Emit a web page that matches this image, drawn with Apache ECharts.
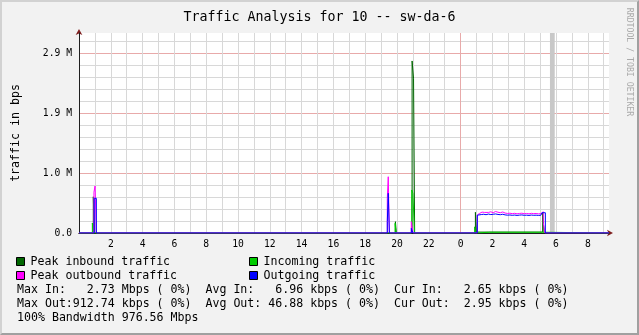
<!DOCTYPE html>
<html><head><meta charset="utf-8">
<script src="https://cdn.jsdelivr.net/npm/echarts@6/dist/echarts.min.js"></script>
<style>
html,body{margin:0;padding:0;background:#f2f2f2;}
#c{width:639px;height:335px;position:absolute;left:0;top:0;}
#frame{position:absolute;left:0;top:0;width:639px;height:335px;box-sizing:border-box;border-top:2px solid #d2d2d2;border-left:2px solid #d2d2d2;border-right:2px solid #a0a0a0;border-bottom:2px solid #a0a0a0;pointer-events:none;}
</style></head>
<body><div id="c"></div><div id="frame"></div>
<script>
const FONT = '"DejaVu Sans Mono", "Liberation Mono", monospace';
const chartTitle = 'Traffic Analysis for 10 -- sw-da-6';
const yAxisTitle = 'traffic in bps';
const creditText = 'RRDTOOL / TOBI OETIKER';
const seriesNames = ['Peak inbound traffic', 'Incoming traffic', 'Peak outbound traffic', 'Outgoing traffic'];
const seriesColors = ['#006600', '#00cc00', '#ff00ff', '#0000ff'];

// y axis: major step 976562.5 bps, minor = 1/5 of it
const yMajor = 976562.5;
const yMinor = 195312.5;
const yMax = 3255208.33;
const yTickLabels = ['0.0', '1.0 M', '1.9 M', '2.9 M'];

// x axis in hours from 00:00 of the first day
const xMax = 33.333;
const xTickHours = [2, 4, 6, 8, 10, 12, 14, 16, 18, 20, 22, 24, 26, 28, 30, 32];
const xTickLabels = ['2', '4', '6', '8', '10', '12', '14', '16', '18', '20', '22', '0', '2', '4', '6', '8'];

// unknown-data band (hours)
const unknownBand = [29.62, 29.92];

// [hour, bps] — each value holds until the next point
const peakInbound = [
  [0, 0], [0.9, 590000], [0.96, 0],
  [19.9, 184000], [19.96, 0],
  [20.95, 2800000], [21.04, 2520000], [21.11, 0],
  [24.93, 337000], [25.0, 15000], [25.78, 30000], [25.86, 15000],
  [29.16, 330000], [29.25, 0],
  [33.333, 0]
];
const incoming = [
  [0, 0], [0.84, 163000], [0.9, 0],
  [19.88, 158000], [19.94, 0],
  [20.93, 700000], [21.0, 646000], [21.1, 0],
  [24.88, 100000], [24.95, 0], [25.0, 12000], [25.8, 30000], [25.88, 12000],
  [29.3, 0],
  [33.333, 0]
];
const peakOutbound = [
  [0, 0], [0.94, 664000], [1.01, 765000], [1.09, 0],
  [19.39, 565000], [19.45, 916000], [19.52, 0],
  [20.9, 184000], [21.0, 0],
  [21.92, 30000], [21.96, 0],
  [25.05, 293000], [25.12, 320000], [25.2, 340000], [25.35, 335000], [25.5, 352000],
  [25.62, 335000], [25.75, 345000], [25.9, 330000], [26.05, 350000], [26.2, 338000],
  [26.35, 330000], [26.5, 342000], [26.65, 325000], [26.8, 318000], [26.95, 322000],
  [27.1, 315000], [27.25, 320000], [27.4, 312000], [27.55, 318000], [27.7, 322000],
  [27.85, 314000], [28.0, 318000], [28.15, 312000], [28.3, 320000], [28.45, 315000],
  [28.6, 318000], [28.75, 312000], [28.9, 316000], [29.05, 330000], [29.12, 345000],
  [29.2, 165000], [29.3, 0],
  [33.333, 0]
];
const outgoing = [
  [0, 0], [0.96, 565000], [1.09, 0],
  [19.39, 184000], [19.45, 646000], [19.52, 0],
  [20.9, 76000], [21.0, 0],
  [21.92, 25000], [21.96, 0],
  [25.05, 290000], [25.15, 300000], [25.3, 305000], [25.45, 298000], [25.6, 308000],
  [25.75, 300000], [25.9, 305000], [26.05, 310000], [26.2, 302000], [26.35, 298000],
  [26.5, 305000], [26.65, 295000], [26.8, 290000], [26.95, 293000], [27.1, 288000],
  [27.25, 292000], [27.4, 286000], [27.55, 291000], [27.7, 294000], [27.85, 288000],
  [28.0, 290000], [28.15, 286000], [28.3, 292000], [28.45, 288000], [28.6, 290000],
  [28.75, 286000], [28.9, 289000], [29.05, 292000], [29.12, 330000], [29.33, 0],
  [33.333, 0]
];
const seriesData = [peakInbound, incoming, peakOutbound, outgoing];

const statsLines = [
  'Max In:   2.73 Mbps ( 0%)  Avg In:   6.96 kbps ( 0%)  Cur In:   2.65 kbps ( 0%)',
  'Max Out:912.74 kbps ( 0%)  Avg Out: 46.88 kbps ( 0%)  Cur Out:  2.95 kbps ( 0%)',
  '100% Bandwidth 976.56 Mbps'
];

const GRID_GRAY = '#d8d8d8';
const GRID_RED = '#e8aaaa';

const xSplitColors = [];
for (let i = 0; i < 24; i++) xSplitColors.push(i === 23 ? GRID_RED : GRID_GRAY);
const ySplitColors = [GRID_GRAY, GRID_GRAY, GRID_GRAY, GRID_GRAY, GRID_RED];

const chart = echarts.init(document.getElementById('c'), null, {renderer: 'canvas'});

const legendPos = [[16, 255], [249, 255], [16, 269], [249, 269]];
const legendOrder = [0, 1, 2, 3];

const option = {
  backgroundColor: '#f2f2f2',
  animation: false,
  textStyle: {fontFamily: FONT},
  title: {
    text: chartTitle, left: 'center', top: 11.5, padding: 0,
    textStyle: {fontFamily: FONT, fontSize: 13.3, fontWeight: 'normal', color: '#000'}
  },
  legend: legendOrder.map((si, k) => ({
    data: [seriesNames[si]],
    left: legendPos[k][0], top: legendPos[k][1], padding: 0,
    icon: 'rect', itemWidth: 8, itemHeight: 8,
    itemStyle: {color: seriesColors[si], borderColor: '#000', borderWidth: 1},
    selectedMode: false,
    textStyle: {fontFamily: FONT, fontSize: 11.6, color: '#000', lineHeight: 13, padding: [0, 0, 0, 1]}
  })),
  grid: {
    left: 79, right: 30, top: 33, bottom: 102,
    show: true, backgroundColor: '#ffffff', borderWidth: 0,
    containLabel: false, outerBoundsMode: 'none'
  },
  xAxis: [
    {
      type: 'value', min: 0, max: xMax, interval: 1, position: 'bottom', z: 1,
      axisLine: {show: true, lineStyle: {color: '#1f1f1f', width: 1}},
      axisTick: {show: false},
      axisLabel: {
        show: true, margin: 6, fontFamily: FONT, fontSize: 9.7, color: '#000',
        showMinLabel: false, showMaxLabel: false,
        formatter: function (v) {
          const h = Math.round(v);
          if (Math.abs(v - h) > 1e-6) return '';
          const idx = xTickHours.indexOf(h);
          return idx >= 0 ? xTickLabels[idx] : '';
        }
      },
      splitLine: {show: true, showMinLine: false, showMaxLine: false, lineStyle: {color: xSplitColors, width: 1}}
    },
    {
      type: 'value', min: 0, max: xMax, position: 'bottom', z: 0,
      axisLine: {show: true, symbol: ['none', 'arrow'], symbolSize: [5, 6], symbolOffset: [0, 4],
        lineStyle: {color: '#7f1f1f', width: 1}},
      axisTick: {show: false}, axisLabel: {show: false}, splitLine: {show: false}
    }
  ],
  yAxis: [
    {
      type: 'value', min: 0, max: yMax, interval: yMinor, position: 'left', z: 1,
      axisLine: {show: true, lineStyle: {color: '#1f1f1f', width: 1}},
      axisTick: {show: false},
      axisLabel: {
        show: true, margin: 7, fontFamily: FONT, fontSize: 9.7, color: '#000',
        showMaxLabel: false,
        formatter: function (v) {
          const k = v / yMajor;
          const r = Math.round(k);
          if (Math.abs(k - r) > 1e-6) return '';
          return yTickLabels[r] !== undefined ? yTickLabels[r] : '';
        }
      },
      splitLine: {show: true, showMinLine: false, showMaxLine: false, lineStyle: {color: ySplitColors, width: 1}},
      name: yAxisTitle, nameLocation: 'middle', nameGap: 57,
      nameTextStyle: {fontFamily: FONT, fontSize: 11.6, color: '#000'}
    },
    {
      type: 'value', min: 0, max: yMax, position: 'left', z: 0,
      axisLine: {show: true, symbol: ['none', 'arrow'], symbolSize: [5, 6], symbolOffset: [0, 4],
        lineStyle: {color: '#7f1f1f', width: 1}},
      axisTick: {show: false}, axisLabel: {show: false}, splitLine: {show: false}
    }
  ],
  series: seriesData.map((d, i) => {
    const s = {
      name: seriesNames[i], type: 'line', step: 'end', data: d,
      xAxisIndex: 0, yAxisIndex: 0,
      showSymbol: false, symbol: 'none', silent: true,
      lineStyle: {color: seriesColors[i], width: 1},
      itemStyle: {color: seriesColors[i]},
      z: 2 + i
    };
    if (i === 0) {
      s.markArea = {
        silent: true,
        itemStyle: {color: '#c8c8c8', opacity: 1},
        data: [[{xAxis: unknownBand[0]}, {xAxis: unknownBand[1]}]]
      };
    }
    return s;
  }),
  graphic: [
    {
      type: 'text', x: 629, y: 62, rotation: -Math.PI / 2, silent: true,
      style: {text: creditText, font: '8.2px ' + FONT, fill: '#aaaaaa', align: 'center', verticalAlign: 'middle'}
    }
  ].concat(statsLines.map((t, i) => ({
    type: 'text', x: 17, y: 289.5 + i * 14, silent: true,
    style: {text: t, font: '11.6px ' + FONT, fill: '#000', align: 'left', verticalAlign: 'middle'}
  })))
};

chart.setOption(option);
</script>
</body></html>
